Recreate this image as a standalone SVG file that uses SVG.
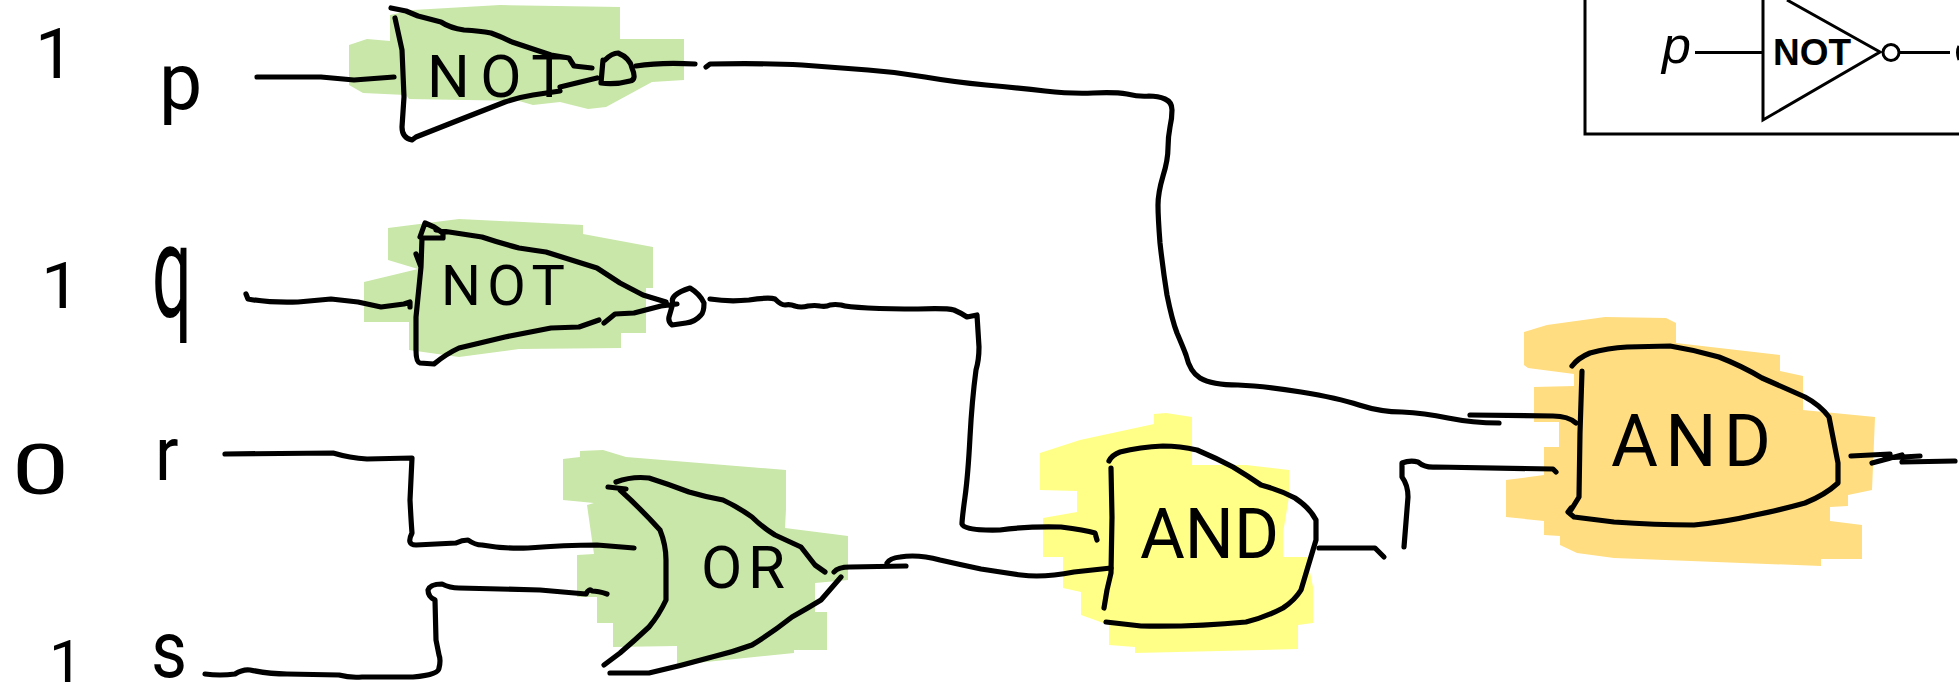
<svg xmlns="http://www.w3.org/2000/svg" width="1959" height="697" viewBox="0 0 1959 697">
<style>
.s{fill:none;stroke:#000;stroke-width:5.2;stroke-linecap:round;stroke-linejoin:round}
.g{fill:#c9e7a8}.y{fill:#ffff88}.o{fill:#ffdd80}
.h{font-family:"Roboto","Liberation Sans",sans-serif;font-weight:400;fill:#000}
.i{fill:none;stroke:#000;stroke-width:3}
.t{font-family:"Liberation Sans",Arial,sans-serif;fill:#000}
</style>
<rect width="1959" height="697" fill="#fff"/>
<g id="not1">
<polygon class="g" points="390,15 413,10 500,5 620,7 620,39 684,39 684,80 652,82 606,107 588,109 560,102 533,105 519,101 409,99 406,95 363,93 349,85 349,45 367,39 390,41"/>
<path class="s" d="M395 18L402 50L404 97L402 127Q402 138 412 140L416 137L459 120L505 102Q520 97 533 95L560 91M560 87L597 78M391 8L406 11L418 16L441 22Q450 28 464 30Q480 31 491 33Q502 37 512 42L551 55L569 58L574 66L592 68M605 60Q612 53 618 53Q630 58 632 68Q637 80 630 81Q615 85 601 83L603 60"/>
<text class="h" x="427" y="97" font-size="60" textLength="140" lengthAdjust="spacing">NOT</text>
</g>
<g id="not2">
<polygon class="g" points="388,228 459,219 583,225 583,234 653,247 653,288 646,288 646,333 621,333 621,348 519,349 459,357 409,350 409,322 364,322 364,282 418,269 388,260"/>
<path class="s" d="M420 237L425 223L434 227L443 233L443 238L422 238M436 230L482 237Q500 243 519 248Q532 250 546 252L597 268L620 283L643 295L666 302M416 254L421 267L416 317L416 350Q416 362 420 363L434 364Q446 354 459 348L505 337L551 328L579 327L599 320M604 323L615 314L634 313L661 306M422 238L421 267M673 303Q669 295 690 288Q700 294 704 303Q704 312 701 315Q695 322 686 323L672 325Q668 322 669 317ZM677 304L661 306"/>
<text class="h" x="441" y="305" font-size="56" textLength="124" lengthAdjust="spacing">NOT</text>
</g>
<g id="or1">
<polygon class="g" points="563,459 580,457 580,451 603,450 626,457 786,470 786,509 785,528 848,536 848,580 815,583 815,612 827,612 827,650 794,650 794,653 677,665 677,646 613,647 613,623 597,623 597,597 577,597 577,555 594,554 587,505 594,503 563,500"/>
<path class="s" d="M616 482Q632 476 649 478Q668 484 689 492Q706 497 723 500Q738 507 752 517Q762 527 775 535L801 547L815 565L825 572M608 487L626 489L620 490Q640 508 660 530Q666 545 666 560L666 600Q659 615 649 627Q634 641 620 653L604 665M610 673L649 673Q680 666 712 657Q733 652 752 645Q773 632 792 617Q808 608 821 600L841 577M834 572Q838 567 850 567L906 566"/>
<text class="h" x="701" y="588" font-size="60" textLength="84" lengthAdjust="spacing">OR</text>
</g>
<g id="and1">
<polygon class="y" points="1040,453 1080,440 1154,424 1154,414 1166,413 1192,417 1192,465 1246,465 1289,470 1289,497 1283,533 1283,557 1307,557 1313,587 1313,623 1298,625 1298,649 1135,653 1135,647 1109,645 1109,625 1081,615 1081,592 1063,588 1063,557 1043,557 1043,518 1077,512 1077,491 1040,490"/>
<path class="s" d="M1111 468L1112 517L1111 573L1107 590L1104 608M1109 461Q1112 455 1120 452Q1140 447 1163 446Q1180 446 1197 450Q1216 458 1233 467Q1248 476 1261 485Q1280 490 1295 498Q1310 508 1316 520L1316 540L1301 590Q1295 600 1283 608Q1266 617 1246 622Q1195 627 1141 626L1106 622"/>
<text class="h" x="1140" y="558" font-size="70" textLength="139" lengthAdjust="spacingAndGlyphs">AND</text>
</g>
<g id="and2">
<polygon class="o" points="1524,332 1547,325 1605,317 1666,318 1676,323 1676,343 1780,355 1780,371 1803,376 1803,410 1875,417 1872,490 1848,495 1848,506 1830,507 1830,521 1862,525 1862,559 1821,559 1821,566 1614,558 1577,553 1560,545 1560,536 1544,535 1544,521 1506,517 1506,480 1529,477 1544,475 1544,447 1559,447 1559,422 1534,422 1534,387 1574,386 1574,374 1528,368 1524,365"/>
<path class="s" d="M1582 371L1580 433L1579 497L1571 510M1572 366Q1578 358 1590 353Q1608 348 1627 347L1670 346Q1695 350 1719 357Q1742 366 1762 378Q1785 388 1805 397Q1820 405 1829 417L1838 463L1838 483Q1825 495 1805 503Q1780 510 1755 515Q1725 522 1694 525Q1655 525 1614 522L1574 517L1568 512L1571 508"/>
<text class="h" x="1611" y="466" font-size="72" textLength="160" lengthAdjust="spacing">AND</text>
</g>
<g id="connectors">
<path class="s" d="M257 77L321 77L354 80L394 77"/>
<path class="s" d="M246 294L248 299Q270 303 298 302L331 299L358 302L381 307L404 304L410 302L410 307"/>
<path class="s" d="M636 66Q661 62 695 64"/>
<path class="s" d="M706 67L710 64Q765 63 802 65Q840 68 868 70Q897 72 925 77Q954 82 986 85Q1019 88 1045 91Q1072 94 1093 93Q1115 92 1127 94Q1140 97 1149 96Q1158 96 1165 99Q1172 102 1172 110Q1172 118 1170 127Q1168 137 1168 148Q1168 160 1163 176Q1158 193 1158 205Q1158 217 1160 243Q1163 270 1167 295Q1172 320 1177 333Q1183 347 1186 355Q1190 372 1200 378Q1212 385 1238 385Q1264 386 1301 392Q1338 398 1359 405Q1381 412 1402 412Q1424 413 1448 418Q1473 423 1499 423"/>
<path class="s" d="M710 299Q729 302 749 300Q769 297 775 299Q781 305 785 305Q790 304 795 306Q801 308 808 306Q815 305 820 306Q826 307 830 305Q835 304 841 305Q847 307 868 308Q890 309 918 309Q947 308 954 310Q961 313 967 317Q972 316 977 315L979 347Q979 360 976 370Q972 400 970 437Q968 475 965 497Q962 519 962 524Q964 531 1000 530Q1030 526 1061 527Q1085 530 1095 533L1097 540"/>
<path class="s" d="M225 454L333 453Q350 458 367 459L412 458L410 500Q411 520 412 533Q406 545 416 545L456 543Q462 540 468 540Q475 545 482 545Q505 549 528 548Q565 545 597 545L634 548"/>
<path class="s" d="M205 674Q220 676 235 674Q243 669 250 670Q270 674 287 674L339 675Q350 678 362 677L413 677Q439 675 439 668Q441 660 439 655L436 640L435 600Q428 597 428 590Q430 584 442 584Q450 588 459 588L540 590L586 594Q589 588 592 591Q598 591 607 594"/>
<path class="s" d="M887 563Q890 558 900 557Q918 554 940 560Q962 565 981 569Q1000 572 1021 575Q1043 578 1074 572L1111 568"/>
<path class="s" d="M1319 548L1375 548L1384 557"/>
<path class="s" d="M1404 547L1408 497Q1408 485 1402 477L1402 463Q1410 460 1418 462Q1425 468 1436 467L1553 469L1556 472"/>
<path class="s" d="M1470 415L1553 416Q1568 416 1576 423"/>
<path class="s" d="M1851 456L1890 454M1872 463L1902 455M1885 458L1920 456M1902 462L1955 461"/>
</g>
<g id="values">
<text class="h" x="35" y="78" font-size="70" font-weight="300">1</text>
<text class="h" transform="translate(159 109) scale(1.1 1.15)" font-size="70" font-weight="300">p</text>
<text class="h" transform="translate(41 308) scale(1 .92)" font-size="70" font-weight="300">1</text>
<text class="h" transform="translate(152 317) scale(1 1.86)" font-size="70" font-weight="300">q</text>
<text class="h" transform="translate(12 494) scale(1.45 1)" font-size="70" font-weight="300">0</text>
<text class="h" transform="translate(155 480) scale(1.2 1.3)" font-size="58" font-weight="300">r</text>
<text class="h" x="49" y="682" font-size="60" font-weight="300">1</text>
<text class="h" transform="translate(151 677) scale(1 1.14)" font-size="70" font-weight="300">s</text>
</g>
<g id="inset">
<path class="i" d="M1585 0V134H1959"/>
<path class="i" d="M1763 0V120L1880 52L1787 0M1695 52.5H1763M1900 52.5H1950"/>
<circle class="i" cx="1891" cy="52.5" r="8"/>
<text class="t" x="1662" y="63" font-size="52" font-style="italic">p</text>
<text class="t" x="1773" y="65" font-size="37" font-weight="700">NOT</text>
<path d="M1959 46Q1956 52 1959 60" fill="none" stroke="#000" stroke-width="3"/>
</g>
</svg>
